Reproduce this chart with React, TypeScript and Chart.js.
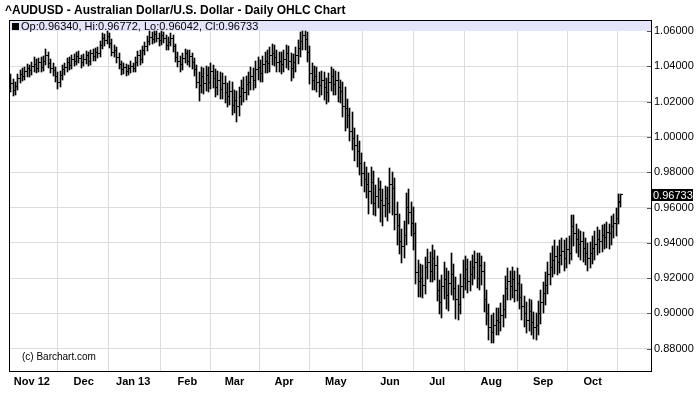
import { useEffect, useRef } from 'react';
import { Chart, registerables } from 'chart.js';

Chart.register(...registerables);

const TITLE = '^AUDUSD - Australian Dollar/U.S. Dollar - Daily OHLC Chart';
const WATERMARK = '(c) Barchart.com';

const monthTickIndex = [9, 31, 52, 75, 95, 116, 138, 161, 181, 204, 226, 247];
const monthTickLabel = ['Nov 12', 'Dec', 'Jan 13', 'Feb', 'Mar', 'Apr', 'May', 'Jun', 'Jul', 'Aug', 'Sep', 'Oct'];
const priceTicks = [0.88, 0.9, 0.92, 0.94, 0.96, 0.98, 1.0, 1.02, 1.04, 1.06];

const opens = [
  1.0330, 1.0300, 1.0265, 1.0285, 1.0330, 1.0355, 1.0345, 1.0370, 1.0385, 1.0375,
  1.0400, 1.0410, 1.0390, 1.0420, 1.0395, 1.0430, 1.0460, 1.0415, 1.0390, 1.0375,
  1.0340, 1.0310, 1.0350, 1.0380, 1.0395, 1.0420, 1.0405, 1.0440, 1.0430, 1.0455,
  1.0445, 1.0420, 1.0440, 1.0460, 1.0430, 1.0470, 1.0455, 1.0480, 1.0470, 1.0520,
  1.0560, 1.0545, 1.0570, 1.0530, 1.0480, 1.0490, 1.0450, 1.0410, 1.0380, 1.0395,
  1.0370, 1.0385, 1.0400, 1.0390, 1.0420, 1.0460, 1.0440, 1.0490, 1.0510, 1.0540,
  1.0565, 1.0550, 1.0580, 1.0560, 1.0545, 1.0575, 1.0555, 1.0520, 1.0535, 1.0560,
  1.0510, 1.0450, 1.0430, 1.0410, 1.0445, 1.0470, 1.0430, 1.0455, 1.0420, 1.0380,
  1.0310, 1.0290, 1.0345, 1.0300, 1.0350, 1.0310, 1.0370, 1.0330, 1.0280, 1.0320,
  1.0270, 1.0300, 1.0250, 1.0230, 1.0260, 1.0180, 1.0205, 1.0170, 1.0230, 1.0275,
  1.0250, 1.0295, 1.0310, 1.0340, 1.0320, 1.0380, 1.0395, 1.0360, 1.0410, 1.0430,
  1.0415, 1.0460, 1.0475, 1.0450, 1.0420, 1.0430, 1.0410, 1.0440, 1.0470, 1.0430,
  1.0385, 1.0420, 1.0460, 1.0500, 1.0540, 1.0575, 1.0550, 1.0480, 1.0360, 1.0320,
  1.0345, 1.0310, 1.0290, 1.0320, 1.0280, 1.0250, 1.0310, 1.0340, 1.0295, 1.0320,
  1.0280, 1.0260, 1.0170, 1.0160, 1.0120, 1.0030, 0.9990, 0.9950, 0.9920, 0.9850,
  0.9790, 0.9760, 0.9730, 0.9690, 0.9740, 0.9620, 0.9660, 0.9700, 0.9640, 0.9610,
  0.9650, 0.9620, 0.9730, 0.9710, 0.9560, 0.9500, 0.9410, 0.9380, 0.9440, 0.9600,
  0.9570, 0.9510, 0.9450, 0.9230, 0.9180, 0.9200, 0.9160, 0.9260, 0.9290, 0.9240,
  0.9310, 0.9270, 0.9130, 0.9060, 0.9150, 0.9190, 0.9100, 0.9170, 0.9220, 0.9140,
  0.9080, 0.9050, 0.9150, 0.9200, 0.9250, 0.9180, 0.9220, 0.9260, 0.9290, 0.9200,
  0.9270, 0.9240, 0.9080, 0.9000, 0.8920, 0.8890, 0.8930, 0.8960, 0.8950, 0.8990,
  0.9020, 0.9140, 0.9180, 0.9150, 0.9190, 0.9130, 0.9170, 0.9090, 0.9040, 0.9000,
  0.8960, 0.9010, 0.8950, 0.8920, 0.8930, 0.9000, 0.9060, 0.9110, 0.9160, 0.9220,
  0.9260, 0.9300, 0.9320, 0.9290, 0.9330, 0.9350, 0.9310, 0.9360, 0.9340, 0.9490,
  0.9450, 0.9420, 0.9390, 0.9410, 0.9370, 0.9340, 0.9310, 0.9340, 0.9370, 0.9390,
  0.9420, 0.9410, 0.9440, 0.9430, 0.9460, 0.9450, 0.9490, 0.9510, 0.9540, 0.96340,
];

const highs = [
  1.0355, 1.0330, 1.0310, 1.0355, 1.0380, 1.0390, 1.0395, 1.0415, 1.0410, 1.0425,
  1.0450, 1.0440, 1.0445, 1.0455, 1.0460, 1.0500, 1.0480, 1.0440, 1.0420, 1.0395,
  1.0365, 1.0375, 1.0405, 1.0420, 1.0445, 1.0450, 1.0465, 1.0470, 1.0480, 1.0485,
  1.0465, 1.0470, 1.0485, 1.0480, 1.0495, 1.0500, 1.0505, 1.0510, 1.0545, 1.0590,
  1.0585, 1.0598, 1.0590, 1.0555, 1.0520, 1.0510, 1.0475, 1.0430, 1.0420, 1.0415,
  1.0410, 1.0430, 1.0420, 1.0455, 1.0485, 1.0490, 1.0515, 1.0540, 1.0570, 1.0598,
  1.0592, 1.0600, 1.0598, 1.0590, 1.0598, 1.0592, 1.0575, 1.0565, 1.0590, 1.0580,
  1.0525, 1.0480, 1.0460, 1.0475, 1.0500, 1.0495, 1.0490, 1.0475, 1.0445, 1.0405,
  1.0365, 1.0395, 1.0390, 1.0400, 1.0395, 1.0420, 1.0410, 1.0385, 1.0375, 1.0365,
  1.0360, 1.0345, 1.0305, 1.0315, 1.0310, 1.0265, 1.0260, 1.0285, 1.0320, 1.0340,
  1.0345, 1.0365, 1.0395, 1.0390, 1.0430, 1.0450, 1.0435, 1.0460, 1.0480, 1.0490,
  1.0510, 1.0525, 1.0520, 1.0495, 1.0480, 1.0480, 1.0495, 1.0520, 1.0515, 1.0475,
  1.0470, 1.0510, 1.0550, 1.0595, 1.0600, 1.0598, 1.0595, 1.0515, 1.0420, 1.0400,
  1.0395, 1.0365, 1.0375, 1.0370, 1.0335, 1.0360, 1.0395, 1.0385, 1.0375, 1.0370,
  1.0325, 1.0310, 1.0280, 1.0215, 1.0165, 1.0140, 1.0050, 1.0010, 0.9975, 0.9910,
  0.9855, 0.9830, 0.9795, 0.9830, 0.9805, 0.9730, 0.9765, 0.9750, 0.9705, 0.9720,
  0.9715, 0.9825, 0.9800, 0.9765, 0.9630, 0.9565, 0.9480, 0.9525, 0.9680, 0.9705,
  0.9630, 0.9605, 0.9510, 0.9305, 0.9280, 0.9275, 0.9320, 0.9365, 0.9350, 0.9385,
  0.9360, 0.9325, 0.9190, 0.9215, 0.9290, 0.9255, 0.9240, 0.9340, 0.9280, 0.9205,
  0.9160, 0.9225, 0.9305, 0.9325, 0.9310, 0.9295, 0.9330, 0.9355, 0.9340, 0.9340,
  0.9325, 0.9290, 0.9135, 0.9055, 0.8990, 0.9005, 0.9030, 0.9030, 0.9060, 0.9105,
  0.9210, 0.9255, 0.9240, 0.9265, 0.9240, 0.9255, 0.9220, 0.9165, 0.9100, 0.9065,
  0.9080, 0.9075, 0.9010, 0.9005, 0.9070, 0.9135, 0.9180, 0.9235, 0.9290, 0.9345,
  0.9380, 0.9415, 0.9380, 0.9415, 0.9425, 0.9415, 0.9425, 0.9440, 0.9555, 0.9555,
  0.9505, 0.9480, 0.9465, 0.9460, 0.9425, 0.9400, 0.9405, 0.9440, 0.9465, 0.9490,
  0.9475, 0.9500, 0.9505, 0.9520, 0.9505, 0.9550, 0.9565, 0.9600, 0.9675, 0.96772,
];

const lows = [
  1.0255, 1.0230, 1.0240, 1.0265, 1.0305, 1.0315, 1.0320, 1.0340, 1.0340, 1.0350,
  1.0370, 1.0360, 1.0365, 1.0370, 1.0375, 1.0405, 1.0390, 1.0360, 1.0345, 1.0310,
  1.0270, 1.0285, 1.0325, 1.0350, 1.0370, 1.0380, 1.0385, 1.0400, 1.0405, 1.0420,
  1.0390, 1.0400, 1.0415, 1.0400, 1.0410, 1.0430, 1.0430, 1.0445, 1.0450, 1.0500,
  1.0515, 1.0525, 1.0505, 1.0460, 1.0455, 1.0420, 1.0385, 1.0350, 1.0355, 1.0345,
  1.0350, 1.0360, 1.0365, 1.0370, 1.0400, 1.0410, 1.0420, 1.0465, 1.0485, 1.0520,
  1.0525, 1.0530, 1.0535, 1.0515, 1.0520, 1.0530, 1.0490, 1.0495, 1.0515, 1.0480,
  1.0425, 1.0395, 1.0370, 1.0380, 1.0420, 1.0405, 1.0395, 1.0385, 1.0345, 1.0275,
  1.0205, 1.0250, 1.0245, 1.0260, 1.0255, 1.0270, 1.0275, 1.0225, 1.0235, 1.0215,
  1.0215, 1.0190, 1.0170, 1.0180, 1.0125, 1.0135, 1.0085, 1.0120, 1.0180, 1.0195,
  1.0210, 1.0240, 1.0265, 1.0265, 1.0275, 1.0325, 1.0310, 1.0310, 1.0360, 1.0360,
  1.0370, 1.0405, 1.0400, 1.0365, 1.0370, 1.0355, 1.0365, 1.0390, 1.0380, 1.0315,
  1.0335, 1.0370, 1.0415, 1.0450, 1.0495, 1.0495, 1.0425, 1.0300, 1.0265, 1.0265,
  1.0255, 1.0225, 1.0240, 1.0210, 1.0185, 1.0200, 1.0260, 1.0240, 1.0235, 1.0200,
  1.0190, 1.0110, 1.0035, 1.0050, 0.9975, 0.9925, 0.9865, 0.9830, 0.9785, 0.9720,
  0.9685, 0.9655, 0.9565, 0.9620, 0.9560, 0.9550, 0.9600, 0.9520, 0.9495, 0.9545,
  0.9525, 0.9570, 0.9560, 0.9475, 0.9385, 0.9335, 0.9285, 0.9315, 0.9390, 0.9505,
  0.9440, 0.9360, 0.9165, 0.9095, 0.9095, 0.9085, 0.9110, 0.9195, 0.9180, 0.9180,
  0.9190, 0.9070, 0.8995, 0.8975, 0.9080, 0.9025, 0.9015, 0.9105, 0.9075, 0.8970,
  0.8965, 0.8995, 0.9090, 0.9135, 0.9115, 0.9125, 0.9160, 0.9195, 0.9145, 0.9135,
  0.9160, 0.9010, 0.8935, 0.8850, 0.8830, 0.8835, 0.8875, 0.8880, 0.8900, 0.8925,
  0.8975, 0.9075, 0.9075, 0.9085, 0.9065, 0.9070, 0.9025, 0.8965, 0.8925, 0.8890,
  0.8900, 0.8880, 0.8855, 0.8850, 0.8875, 0.8940, 0.9005, 0.9050, 0.9110, 0.9160,
  0.9205, 0.9225, 0.9215, 0.9230, 0.9275, 0.9240, 0.9255, 0.9280, 0.9300, 0.9380,
  0.9345, 0.9320, 0.9305, 0.9290, 0.9275, 0.9240, 0.9255, 0.9280, 0.9305, 0.9330,
  0.9345, 0.9350, 0.9365, 0.9370, 0.9365, 0.9390, 0.9425, 0.9440, 0.9505, 0.96042,
];

const closes = [
  1.0300, 1.0265, 1.0285, 1.0330, 1.0355, 1.0345, 1.0370, 1.0385, 1.0375, 1.0400,
  1.0410, 1.0390, 1.0420, 1.0395, 1.0430, 1.0460, 1.0415, 1.0390, 1.0375, 1.0340,
  1.0310, 1.0350, 1.0380, 1.0395, 1.0420, 1.0405, 1.0440, 1.0430, 1.0455, 1.0445,
  1.0420, 1.0440, 1.0460, 1.0430, 1.0470, 1.0455, 1.0480, 1.0470, 1.0520, 1.0560,
  1.0545, 1.0570, 1.0530, 1.0480, 1.0490, 1.0450, 1.0410, 1.0380, 1.0395, 1.0370,
  1.0385, 1.0400, 1.0390, 1.0420, 1.0460, 1.0440, 1.0490, 1.0510, 1.0540, 1.0565,
  1.0550, 1.0580, 1.0560, 1.0545, 1.0575, 1.0555, 1.0520, 1.0535, 1.0560, 1.0510,
  1.0450, 1.0430, 1.0410, 1.0445, 1.0470, 1.0430, 1.0455, 1.0420, 1.0380, 1.0310,
  1.0290, 1.0345, 1.0300, 1.0350, 1.0310, 1.0370, 1.0330, 1.0280, 1.0320, 1.0270,
  1.0300, 1.0250, 1.0230, 1.0260, 1.0180, 1.0205, 1.0170, 1.0230, 1.0275, 1.0250,
  1.0295, 1.0310, 1.0340, 1.0320, 1.0380, 1.0395, 1.0360, 1.0410, 1.0430, 1.0415,
  1.0460, 1.0475, 1.0450, 1.0420, 1.0430, 1.0410, 1.0440, 1.0470, 1.0430, 1.0385,
  1.0420, 1.0460, 1.0500, 1.0540, 1.0575, 1.0550, 1.0480, 1.0360, 1.0320, 1.0345,
  1.0310, 1.0290, 1.0320, 1.0280, 1.0250, 1.0310, 1.0340, 1.0295, 1.0320, 1.0280,
  1.0260, 1.0170, 1.0160, 1.0120, 1.0030, 0.9990, 0.9950, 0.9920, 0.9850, 0.9790,
  0.9760, 0.9730, 0.9690, 0.9740, 0.9620, 0.9660, 0.9700, 0.9640, 0.9610, 0.9650,
  0.9620, 0.9730, 0.9710, 0.9560, 0.9500, 0.9410, 0.9380, 0.9440, 0.9600, 0.9570,
  0.9510, 0.9450, 0.9230, 0.9180, 0.9200, 0.9160, 0.9260, 0.9290, 0.9240, 0.9310,
  0.9270, 0.9130, 0.9060, 0.9150, 0.9190, 0.9100, 0.9170, 0.9220, 0.9140, 0.9080,
  0.9050, 0.9150, 0.9200, 0.9250, 0.9180, 0.9220, 0.9260, 0.9290, 0.9200, 0.9270,
  0.9240, 0.9080, 0.9000, 0.8920, 0.8890, 0.8930, 0.8960, 0.8950, 0.8990, 0.9020,
  0.9140, 0.9180, 0.9150, 0.9190, 0.9130, 0.9170, 0.9090, 0.9040, 0.9000, 0.8960,
  0.9010, 0.8950, 0.8920, 0.8930, 0.9000, 0.9060, 0.9110, 0.9160, 0.9220, 0.9260,
  0.9300, 0.9320, 0.9290, 0.9330, 0.9350, 0.9310, 0.9360, 0.9340, 0.9490, 0.9450,
  0.9420, 0.9390, 0.9410, 0.9370, 0.9340, 0.9310, 0.9340, 0.9370, 0.9390, 0.9420,
  0.9410, 0.9440, 0.9430, 0.9460, 0.9450, 0.9490, 0.9510, 0.9540, 0.9630, 0.96733,
];

const FONT = '"Liberation Sans", Arial, Helvetica, sans-serif';

function makeTick(side: 'left' | 'right'): HTMLCanvasElement {
  const c = document.createElement('canvas');
  c.width = 5;
  c.height = 1;
  const g = c.getContext('2d')!;
  g.fillStyle = '#000';
  if (side === 'left') g.fillRect(0, 0, 2, 1);
  else g.fillRect(3, 0, 2, 1);
  return c;
}

const decorPlugin = {
  id: 'decor',
  beforeDatasetsDraw(chart: any) {
    const { ctx, chartArea: a } = chart;
    // snap the library-computed element positions to whole pixels for crisp 1px bars
    chart.getSortedVisibleDatasetMetas().forEach((meta: any) => {
      meta.data.forEach((el: any) => {
        el.x = Math.floor(el.x) + 0.5;
        if (meta.type === 'bar') {
          el.y = Math.round(el.y);
          el.base = Math.round(el.base);
          if (el.base === el.y) el.base = el.y + 1;
        } else {
          el.y = Math.floor(el.y) + 0.5;
        }
      });
    });
    ctx.save();
    ctx.fillStyle = '#e4e4fb';
    ctx.fillRect(a.left, a.top, a.right - a.left, 11);
    ctx.fillStyle = '#000';
    ctx.font = '10px ' + FONT;
    ctx.textBaseline = 'alphabetic';
    ctx.textAlign = 'left';
    ctx.fillText(WATERMARK, 22, 360);
    ctx.restore();
  },
  afterDraw(chart: any) {
    const { ctx, chartArea: a } = chart;
    const ys = chart.scales.y;
    const n = closes.length;
    ctx.save();
    ctx.strokeStyle = '#555';
    ctx.lineWidth = 1;
    for (const t of priceTicks) {
      const py = Math.round(ys.getPixelForValue(t)) + 0.5;
      ctx.beginPath();
      ctx.moveTo(a.right - 5, py);
      ctx.lineTo(a.right, py);
      ctx.stroke();
    }
    ctx.strokeStyle = '#000';
    ctx.strokeRect(a.left + 0.5, a.top + 0.5, a.right - a.left - 1, a.bottom - a.top);
    ctx.fillStyle = '#000';
    ctx.font = 'bold 12px ' + FONT;
    ctx.textAlign = 'left';
    ctx.textBaseline = 'alphabetic';
    ctx.fillText(TITLE, 5, 14);
    ctx.fillRect(12, 23, 7, 7);
    ctx.font = '11px ' + FONT;
    const leg = `Op:${opens[n - 1].toFixed(5)}, Hi:${highs[n - 1].toFixed(5)}, Lo:${lows[n - 1].toFixed(5)}, Cl:${closes[n - 1].toFixed(5)}`;
    ctx.fillText(leg, 21, 30);
    const cy = ys.getPixelForValue(closes[n - 1]);
    ctx.fillStyle = '#000';
    ctx.fillRect(a.right, Math.round(cy) - 6, 41, 12);
    ctx.fillStyle = '#fff';
    ctx.font = '11px ' + FONT;
    ctx.textBaseline = 'middle';
    ctx.fillText(closes[n - 1].toFixed(5), a.right + 1, Math.round(cy) + 0.5);
    ctx.restore();
  },
};

export default function App() {
  const ref = useRef<HTMLCanvasElement | null>(null);
  useEffect(() => {
    document.body.style.margin = '0';
    const canvas = ref.current!;
    const openImg = makeTick('left');
    const closeImg = makeTick('right');
    const idx = closes.map((_, k) => k);
    const chart = new Chart(canvas, {
      type: 'bar',
      data: {
        datasets: [
          {
            type: 'bar',
            data: idx.map((k) => ({ x: k, y: [lows[k], highs[k]] })) as any,
            backgroundColor: '#000',
            borderWidth: 0,
            barThickness: 1,
            grouped: false,
          } as any,
          {
            type: 'scatter',
            data: idx.map((k) => ({ x: k, y: opens[k] })),
            pointStyle: openImg,
            pointRadius: 2,
            showLine: false,
          } as any,
          {
            type: 'scatter',
            data: idx.map((k) => ({ x: k, y: closes[k] })),
            pointStyle: closeImg,
            pointRadius: 2,
            showLine: false,
          } as any,
        ],
      },
      options: {
        animation: false,
        responsive: false,
        events: [],
        layout: { padding: { top: 20, left: 9, right: 0, bottom: 0 } },
        plugins: {
          legend: { display: false },
          tooltip: { enabled: false },
          title: { display: false },
        },
        scales: {
          x: {
            type: 'linear',
            offset: false,
            min: -0.7,
            max: 272.2,
            afterBuildTicks: (s: any) => {
              s.ticks = monthTickIndex.map((v) => ({ value: v }));
            },
            afterFit: (s: any) => {
              s.height = 40;
            },
            grid: { color: '#dcdcdc', lineWidth: 1, drawTicks: false },
            border: { display: false },
            ticks: {
              autoSkip: false,
              maxRotation: 0,
              padding: 4,
              color: '#000',
              font: { family: FONT, size: 11, weight: 'bold' },
              callback: (v: any) => {
                const i = monthTickIndex.indexOf(Number(v));
                return i >= 0 ? monthTickLabel[i] : '';
              },
            },
          },
          y: {
            type: 'linear',
            position: 'right',
            min: 0.86737,
            max: 1.06623,
            afterBuildTicks: (s: any) => {
              s.ticks = priceTicks.map((v) => ({ value: v }));
            },
            afterFit: (s: any) => {
              s.width = 48;
            },
            grid: { color: '#dcdcdc', lineWidth: 1, drawTicks: false },
            border: { display: false },
            ticks: {
              padding: 2,
              color: '#000',
              font: { family: FONT, size: 11 },
              callback: (v: any) => Number(v).toFixed(5),
            },
          },
        },
      } as any,
      plugins: [decorPlugin],
    });
    return () => chart.destroy();
  }, []);
  return (
    <div style={{ width: 700, height: 411 }}>
      <canvas ref={ref} width={700} height={411} style={{ display: 'block' }} />
    </div>
  );
}
